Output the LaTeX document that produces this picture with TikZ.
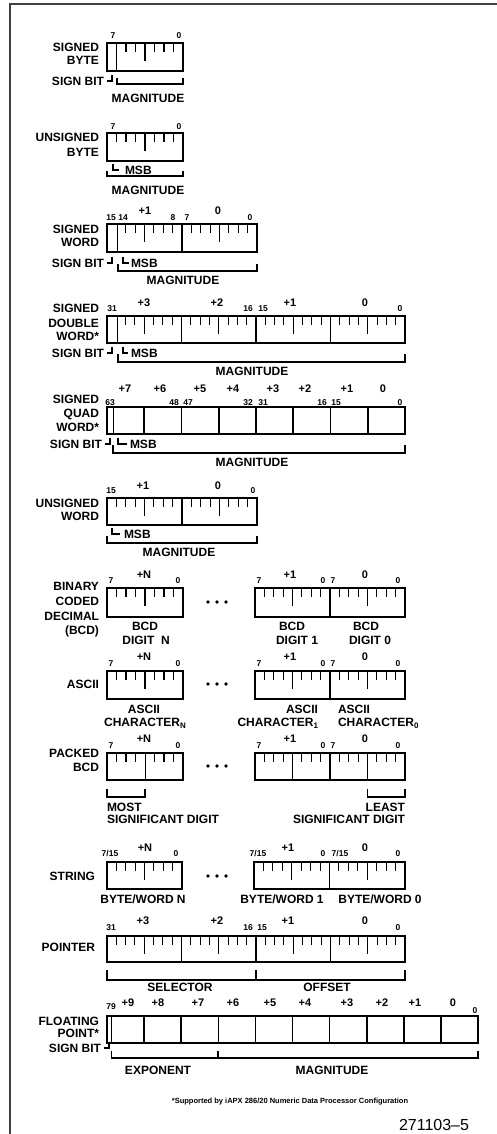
\documentclass[tikz,border=0pt]{standalone}
\usepackage{fontspec}
\setmainfont{Liberation Sans}
\tikzset{
  every node/.style={inner sep=0pt, outer sep=0pt},
  lbl/.style={font=\fontsize{12}{12}\selectfont\bfseries, text height=8.6pt, text depth=0pt},
  lblE/.style={lbl, anchor=east},
  lblW/.style={lbl, anchor=west},
  bitn/.style={font=\fontsize{8.5}{8.5}\selectfont\bfseries, text height=6.1pt, text depth=0pt},
  byten/.style={font=\fontsize{11}{11}\selectfont\bfseries, text height=7.9pt, text depth=0pt},
  regbox/.style={line width=2pt},
  bytediv/.style={line width=1.6pt},
  thinline/.style={line width=0.9pt},
  tickline/.style={line width=1.1pt},
  brkline/.style={line width=1.1pt},
}
% ticks of one byte: xa, xb, ytop, list of k
\newcommand{\tks}[4]{\foreach \k in {#4}{\pgfmathsetmacro{\tl}{(\k==4)?18:9}\draw[tickline] ({#1+\k*(#2-#1)/8},#3) -- ++(0,\tl);}}
% bracket: x1, x2, y, height
\newcommand{\brkt}[4]{\draw[brkline] (#1,{#3-#4}) -- (#1,#3) -- (#2,#3) -- (#2,{#3-#4});}
% sign bit hook: name, x, y
\newcommand{\signhook}[3]{\node[lblE] (#1) at ({#2-8},#3) {SIGN BIT};
  \draw[brkline] ({#2-5},#3) -- (#2,#3) -- (#2,{#3-6});}
% msb hook: name, x, y, hlen, text offset
\newcommand{\msbhook}[5]{\draw[brkline] (#2,{#3-6}) -- (#2,#3) -- ({#2+#4},#3);
  \node[lblW] (#1) at ({#2+#5},#3) {MSB};}
\newcommand{\threedots}[1]{\foreach \dx in {-9,0,9}{\fill ({217+\dx},#1) circle (1.8pt);}}
% numbers of BCD-like rows: prefix, bit y, byte y
\newcommand{\rownums}[3]{%
  \node[bitn] (#1a) at (111,#2) {7};
  \node[byten] (#1b) at (144,#3) {+N};
  \node[bitn] (#1c) at (178,#2) {0};
  \node[bitn] (#1d) at (259,#2) {7};
  \node[byten] (#1e) at (290,#3) {+1};
  \node[bitn] (#1f) at (323,#2) {0};
  \node[bitn] (#1g) at (333,#2) {7};
  \node[byten] (#1h) at (365,#3) {0};
  \node[bitn] (#1i) at (398,#2) {0};}
\newcommand{\subn}[1]{\raisebox{-2.5pt}{\fontsize{8}{8}\selectfont #1}}
\begin{document}
\begin{tikzpicture}[x=1pt,y=-1pt]
\useasboundingbox (0,0) rectangle (497,1134);
\draw[line width=1.6pt, black!75] (497,4) -- (10,4) -- (10,1134);

% ---------- SIGNED BYTE
\draw[regbox] (107,43) rectangle (183,71);
\draw[thinline] (116.5,43) -- (116.5,71);
\tks{107}{183}{43}{2,...,7}
\node[bitn] (sb7) at (113,35) {7};
\node[bitn] (sb0) at (179,35) {0};
\node[lblE] (sbA) at (99,47) {SIGNED};
\node[lblE] (sbB) at (99,60) {BYTE};
\signhook{sbS}{112}{81}
\brkt{117}{183}{84}{6}
\node[lbl] (sbM) at (148,98) {MAGNITUDE};

% ---------- UNSIGNED BYTE
\draw[regbox] (107,133) rectangle (183,161);
\tks{107}{183}{133}{1,...,7}
\node[bitn] (ub7) at (113,126) {7};
\node[bitn] (ub0) at (179,126) {0};
\node[lblE] (ubA) at (99,137) {UNSIGNED};
\node[lblE] (ubB) at (99,152) {BYTE};
\msbhook{ubS}{113}{170}{6}{12}
\brkt{107}{183}{176}{5}
\node[lbl] (ubM) at (148,190) {MAGNITUDE};

% ---------- SIGNED WORD
\draw[regbox] (107,224) rectangle (257,252);
\draw[bytediv] (182,224) -- (182,252);
\draw[thinline] (117,224) -- (117,252);
\tks{107}{182}{224}{2,...,7}
\tks{182}{257}{224}{1,...,7}
\node[bitn] (sw15) at (111,217) {15};
\node[bitn] (sw14) at (123,217) {14};
\node[bitn] (sw8) at (173,217) {8};
\node[bitn] (sw7) at (187,217) {7};
\node[bitn] (sw0) at (250,217) {0};
\node[byten] (swB1) at (145,211) {+1};
\node[byten] (swB0) at (218,211) {0};
\node[lblE] (swA) at (99,229) {SIGNED};
\node[lblE] (swB) at (99,242) {WORD};
\signhook{swS}{112}{263}
\msbhook{swMSB}{123}{263}{6}{8}
\brkt{118}{257}{271}{7}
\node[lbl] (swM) at (183,280) {MAGNITUDE};

% ---------- SIGNED DOUBLE WORD
\draw[regbox] (107,316) rectangle (405,343);
\foreach \xx in {181.5,256,330.5}{\draw[bytediv] (\xx,316) -- (\xx,343);}
\draw[thinline] (117,316) -- (117,343);
\tks{107}{181.5}{316}{2,...,7}
\tks{181.5}{256}{316}{1,...,7}
\tks{256}{330.5}{316}{1,...,7}
\tks{330.5}{405}{316}{1,...,7}
\node[bitn] (dw31) at (112,308) {31};
\node[bitn] (dw16) at (248,308) {16};
\node[bitn] (dw15) at (263,308) {15};
\node[bitn] (dw0) at (400,308) {0};
\node[byten] (dwB3) at (144,303) {+3};
\node[byten] (dwB2) at (217,303) {+2};
\node[byten] (dwB1) at (290,303) {+1};
\node[byten] (dwB0) at (365,303) {0};
\node[lblE] (dwA) at (99,308) {SIGNED};
\node[lblE] (dwB) at (99,323) {DOUBLE};
\node[lblE] (dwC) at (99,336) {WORD*};
\signhook{dwS}{112}{353}
\msbhook{dwMSB}{123}{353}{5}{8}
\brkt{118}{405}{362}{8}
\node[lbl] (dwM) at (252,371) {MAGNITUDE};

% ---------- SIGNED QUAD WORD
\draw[regbox] (107,407) rectangle (405,434);
\foreach \kk in {1,...,7}{\draw[bytediv] ({107+\kk*37.25},407) -- ({107+\kk*37.25},434);}
\draw[thinline] (113,407) -- (113,434);
\foreach \lab/\xx [count=\i] in {+7/125,+6/160,+5/200,+4/233,+3/273,+2/305,+1/347,0/383}{
  \node[byten] (qwB\i) at (\xx,389) {\lab};}
\foreach \lab/\xx [count=\i] in {63/110,48/174,47/188,32/248,31/263,16/322,15/336,0/400}{
  \node[bitn] (qwb\i) at (\xx,402) {\lab};}
\node[lblE] (qwA) at (99,399) {SIGNED};
\node[lblE] (qwB) at (99,413) {QUAD};
\node[lblE] (qwC) at (99,427) {WORD*};
\signhook{qwS}{110}{444}
\msbhook{qwMSB}{118}{444}{9}{12}
\brkt{113}{405}{453}{8}
\node[lbl] (qwM) at (252,462) {MAGNITUDE};

% ---------- UNSIGNED WORD
\draw[regbox] (107,498) rectangle (257,525);
\draw[bytediv] (182,498) -- (182,525);
\tks{107}{182}{498}{1,...,7}
\tks{182}{257}{498}{1,...,7}
\node[bitn] (uw15) at (111,490) {15};
\node[bitn] (uw0) at (253,490) {0};
\node[byten] (uwB1) at (143,486) {+1};
\node[byten] (uwB0) at (218,486) {0};
\node[lblE] (uwA) at (99,503) {UNSIGNED};
\node[lblE] (uwB) at (99,516) {WORD};
\msbhook{uwMSB}{112}{534}{8}{12}
\brkt{107}{257}{543}{7}
\node[lbl] (uwM) at (179,552) {MAGNITUDE};

% ---------- BCD
\draw[regbox] (107,588) rectangle (183,617);
\tks{107}{183}{588}{1,...,7}
\draw[regbox] (255,588) rectangle (405,617);
\draw[bytediv] (330,588) -- (330,617);
\tks{255}{330}{588}{1,...,7}
\tks{330}{405}{588}{1,...,7}
\rownums{bcd}{580}{575}
\threedots{602}
\node[lblE] (bcdA) at (99,586) {BINARY};
\node[lblE] (bcdB) at (99,601) {CODED};
\node[lblE] (bcdC) at (99,616) {DECIMAL};
\node[lblE] (bcdD) at (99,630) {(BCD)};
\node[lbl] (bcdN1) at (145,626) {BCD};
\node[lbl] (bcdN2) at (146,640) {DIGIT\ \ N};
\node[lbl] (bcd11) at (292,626) {BCD};
\node[lbl] (bcd12) at (297,640) {DIGIT 1};
\node[lbl] (bcd01) at (366,626) {BCD};
\node[lbl] (bcd02) at (370,640) {DIGIT 0};

% ---------- ASCII
\draw[regbox] (107,671) rectangle (183,699);
\tks{107}{183}{671}{1,...,7}
\draw[regbox] (255,671) rectangle (405,699);
\draw[bytediv] (330,671) -- (330,699);
\tks{255}{330}{671}{1,...,7}
\tks{330}{405}{671}{1,...,7}
\rownums{asc}{663}{657}
\threedots{684}
\node[lblE] (ascA) at (99,684) {ASCII};
\node[lbl] (ascN1) at (144,709) {ASCII};
\node[lbl] (ascN2) at (145,722) {CHARACTER\subn{N}};
\node[lbl,anchor=east] (asc11) at (318,709) {ASCII};
\node[lbl,anchor=east] (asc12) at (318,722) {CHARACTER\subn{1}};
\node[lblW] (asc01) at (338,709) {ASCII};
\node[lblW] (asc02) at (338,722) {CHARACTER\subn{0}};

% ---------- PACKED BCD
\draw[regbox] (107,753) rectangle (183,780);
\draw[thinline] (145,753) -- (145,780);
\tks{107}{183}{753}{1,2,3,5,6,7}
\draw[regbox] (255,753) rectangle (405,780);
\draw[bytediv] (330,753) -- (330,780);
\draw[thinline] (292.5,753) -- (292.5,780);
\draw[thinline] (367.5,753) -- (367.5,780);
\tks{255}{330}{753}{1,2,3,5,6,7}
\tks{330}{405}{753}{1,2,3,5,6,7}
\rownums{pk}{745}{739}
\threedots{766}
\node[lblE] (pkA) at (99,753) {PACKED};
\node[lblE] (pkB) at (99,767) {BCD};
\brkt{107}{145}{797}{8}
\brkt{367.5}{405}{797}{8}
\node[lblW] (pkM1) at (107,807) {MOST};
\node[lblW] (pkM2) at (107,819) {SIGNIFICANT DIGIT};
\node[lblE] (pkL1) at (405,807) {LEAST};
\node[lblE] (pkL2) at (405,819) {SIGNIFICANT DIGIT};

% ---------- STRING
\draw[regbox] (107,862) rectangle (182,889);
\tks{107}{182}{862}{1,...,7}
\draw[regbox] (254,862) rectangle (405,889);
\draw[bytediv] (329.5,862) -- (329.5,889);
\tks{254}{329.5}{862}{1,...,7}
\tks{329.5}{405}{862}{1,...,7}
\node[bitn] (stA) at (110,853) {7/15};
\node[byten] (stB) at (145,848) {+N};
\node[bitn] (stC) at (176,853) {0};
\node[bitn] (stD) at (258,853) {7/15};
\node[byten] (stE) at (288,848) {+1};
\node[bitn] (stF) at (323,853) {0};
\node[bitn] (stG) at (340,853) {7/15};
\node[byten] (stH) at (365,848) {0};
\node[bitn] (stI) at (398,853) {0};
\threedots{876}
\node[lblE] (stL) at (95,876) {STRING};
\node[lbl] (stN) at (143,899) {BYTE/WORD N};
\node[lbl] (st1) at (282,899) {BYTE/WORD 1};
\node[lbl] (st0) at (380,899) {BYTE/WORD 0};

% ---------- POINTER
\draw[regbox] (107,936) rectangle (405,962);
\foreach \xx in {181.5,256,330.5}{\draw[bytediv] (\xx,936) -- (\xx,962);}
\tks{107}{181.5}{936}{1,...,7}
\tks{181.5}{256}{936}{1,...,7}
\tks{256}{330.5}{936}{1,...,7}
\tks{330.5}{405}{936}{1,...,7}
\node[bitn] (pt31) at (111,927) {31};
\node[bitn] (pt16) at (248,927) {16};
\node[bitn] (pt15) at (262,927) {15};
\node[bitn] (pt0) at (398,927) {0};
\node[byten] (ptB3) at (143,921) {+3};
\node[byten] (ptB2) at (217,921) {+2};
\node[byten] (ptB1) at (288,921) {+1};
\node[byten] (ptB0) at (365,921) {0};
\node[lblE] (ptL) at (95,947) {POINTER};
\brkt{107}{256}{980}{10}
\brkt{256}{405}{980}{10}
\node[lbl] (ptS) at (180,987) {SELECTOR};
\node[lbl] (ptO) at (327,987) {OFFSET};

% ---------- FLOATING POINT
\draw[regbox] (107,1016) rectangle (478,1043);
\foreach \kk in {1,...,9}{\draw[bytediv] ({107+\kk*37.1},1016) -- ({107+\kk*37.1},1043);}
\draw[thinline] (111.5,1016) -- (111.5,1043);
\foreach \lab/\xx [count=\i] in {+9/128,+8/158,+7/198,+6/233,+5/270,+4/305,+3/347,+2/382,+1/415,0/453}{
  \node[byten] (fpB\i) at (\xx,1003) {\lab};}
\node[bitn] (fp79) at (111,1006) {79};
\node[bitn] (fp0) at (475,1010) {0};
\node[lblE] (fpA) at (99,1021) {FLOATING};
\node[lblE] (fpB) at (99,1033) {POINT*};
\signhook{fpS}{109}{1048}
\brkt{111.5}{218}{1058}{7}
\brkt{218}{478}{1058}{7}
\node[lbl] (fpE) at (158,1070) {EXPONENT};
\node[lbl] (fpM) at (332,1070) {MAGNITUDE};

% ---------- footnote
\node[font=\fontsize{7.5}{7.5}\selectfont\bfseries] (fn) at (290,1102) {*Supported by iAPX 286/20 Numeric Data Processor Configuration};
\node[font=\fontsize{16}{16}\selectfont] (fig) at (434,1125) {271103--5};
\end{tikzpicture}
\end{document}
